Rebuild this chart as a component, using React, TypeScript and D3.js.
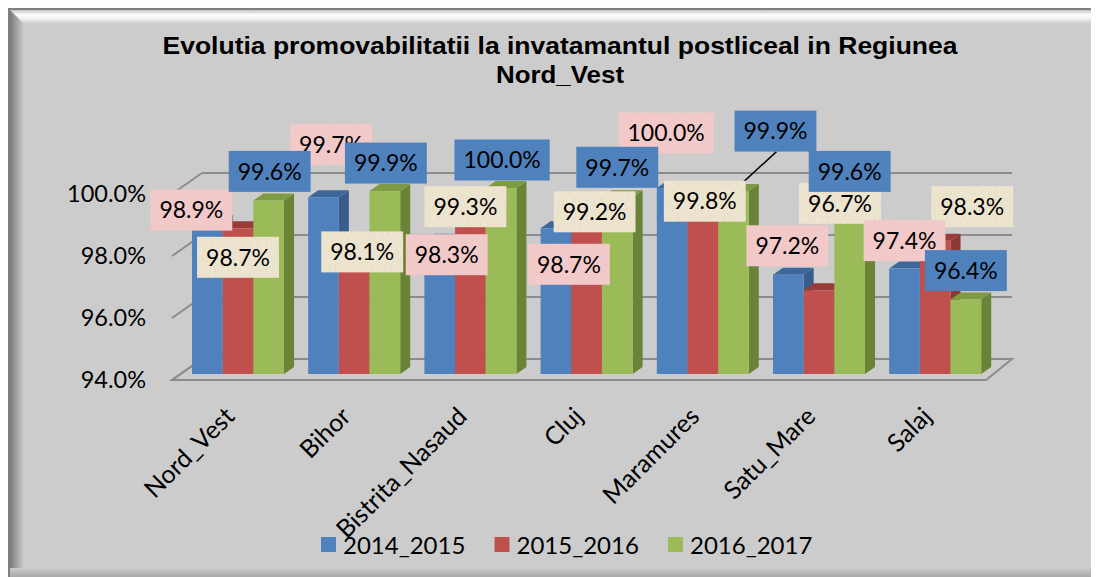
import React from 'react';
import * as d3 from 'd3';

// ---------- data ----------
const categories = ['Nord_Vest', 'Bihor', 'Bistrita_Nasaud', 'Cluj', 'Maramures', 'Satu_Mare', 'Salaj'];
const seriesNames = ['2014_2015', '2015_2016', '2016_2017'];
const values2014_2015 = [98.9, 99.7, 98.3, 98.7, 100.0, 97.2, 97.4];
const values2015_2016 = [98.7, 98.1, 99.3, 99.2, 99.8, 96.7, 98.3];
const values2016_2017 = [99.6, 99.9, 100.0, 99.7, 99.9, 99.6, 96.4];
const yTicks = [94, 96, 98, 100];
const titleLines = ['Evolutia promovabilitatii la invatamantul postliceal in Regiunea', 'Nord_Vest'];

// ---------- style ----------
const seriesValues = [values2014_2015, values2015_2016, values2016_2017];
const frontColors = ['#4F81BD', '#C0504D', '#9BBB59'];
const topColors = ['#3D6798', '#9A3C39', '#7E9B44'];
const sideColors = ['#385D8A', '#8C3836', '#6A8437'];
const labelFills = ['url(#pinkTex)', 'url(#beigeTex)', '#4F81BD'];
const labelDrawOrder = [1, 0, 2];
// label nudges relative to the top-centre of each bar (per series, per category)
const labelNudges = [
  [[-16, -12], [7.5, -53], [7, 14], [13, 36], [-6, -55], [-1, -29], [0, -28]],
  [[0, 29], [8, 5], [-5, -3], [8, -1], [2, 7], [21, -87], [37, -34]],
  [[1, -29], [1, -28], [1, -28], [0, -30], [42, -60], [0, -29], [0, -29]],
];
const leaderLines = [{ cat: 4, series: 2 }];
const titleWidths = [795, 128];

const FONT = 'Lato, "Open Sans", sans-serif';
const FS = 23;

let measureCtx: CanvasRenderingContext2D | null = null;
function textWidth(s: string) {
  if (!measureCtx) {
    const c = document.createElement('canvas');
    measureCtx = c.getContext('2d');
  }
  if (!measureCtx) return s.length * 13;
  measureCtx.font = `${FS}px Lato`;
  return measureCtx.measureText(s).width;
}

export default function App() {
  // wall / floor geometry
  const backLeft = 202;
  const backRight = 1012;
  const depthDX = -30;
  const depthDY = 21;
  const yBack = d3.scaleLinear().domain([94, 100]).range([359, 173]);
  const barShift = 15; // front plane of bars below the back wall
  const yBar = d3.scaleLinear().domain([94, 100]).range([yBack(94) + barShift, yBack(100) + barShift]);

  const xGroup = d3.scaleBand<string>().domain(categories).range([179.9, 993.3]).paddingInner(0.208).paddingOuter(0.104);
  const xSeries = d3.scaleBand<string>().domain(seriesNames).range([0, xGroup.bandwidth()]);
  const bw = xSeries.bandwidth();
  const bdx = 10;
  const bdy = -7;

  const bars: JSX.Element[] = [];
  categories.forEach((c, ci) => {
    seriesNames.forEach((s, si) => {
      const x = (xGroup(c) as number) + (xSeries(s) as number);
      const yT = yBar(seriesValues[si][ci]);
      const yB = yBar(94);
      const side = `M${x + bw},${yT} L${x + bw + bdx},${yT + bdy} L${x + bw + bdx},${yB + bdy} L${x + bw},${yB} Z`;
      const top = `M${x},${yT} L${x + bdx},${yT + bdy} L${x + bw + bdx},${yT + bdy} L${x + bw},${yT} Z`;
      bars.push(
        <g key={`${c}-${s}`}>
          <path d={side} fill={sideColors[si]} />
          <path d={top} fill={topColors[si]} />
          <rect x={x} y={yT} width={bw} height={yB - yT} fill={frontColors[si]} />
        </g>
      );
    });
  });

  const barTop = (ci: number, si: number) => {
    const x = (xGroup(categories[ci]) as number) + (xSeries(seriesNames[si]) as number);
    return { cx: x + bw / 2, y: yBar(seriesValues[si][ci]) };
  };

  const fmt = (v: number) => `${v.toFixed(1)}%`;

  const labels: JSX.Element[] = [];
  labelDrawOrder.forEach((si) => {
    categories.forEach((c, ci) => {
      const { cx, y } = barTop(ci, si);
      const [dx, dy] = labelNudges[si][ci];
      const txt = fmt(seriesValues[si][ci]);
      const w = textWidth(txt) + 18;
      const h = 41;
      const lx = cx + dx;
      const ly = y + dy;
      labels.push(
        <g key={`lab-${si}-${ci}`}>
          <rect x={lx - w / 2} y={ly - h / 2} width={w} height={h} fill={labelFills[si]} />
          <text x={lx} y={ly} dy="0.36em" textAnchor="middle" fontFamily={FONT} fontSize={FS} fill="#000">
            {txt}
          </text>
        </g>
      );
    });
  });

  const leaders = leaderLines.map(({ cat, series }) => {
    const { cx, y } = barTop(cat, series);
    const [dx, dy] = labelNudges[series][cat];
    return <line key={`ld-${cat}`} x1={cx + dx + 1} y1={y + dy + 20.5} x2={cx} y2={y} stroke="#000" strokeWidth={1.5} />;
  });

  const legendStart = 321;
  const legendStep = 173.5;

  return (
    <svg width={1091} height={569} style={{ display: 'block' }}>
      <defs>
        <linearGradient id="topBevel" x1="0" y1="0" x2="0" y2="1">
          <stop offset="0" stopColor="#c4c4c4" />
          <stop offset="0.35" stopColor="#ffffff" />
          <stop offset="0.6" stopColor="#f2f2f2" />
          <stop offset="1" stopColor="#cccccc" />
        </linearGradient>
        <linearGradient id="leftBevel" x1="0" y1="0" x2="1" y2="0">
          <stop offset="0" stopColor="#7a7a7a" />
          <stop offset="0.5" stopColor="#a5a5a5" />
          <stop offset="1" stopColor="#cccccc" />
        </linearGradient>
        <linearGradient id="bottomBevel" x1="0" y1="0" x2="0" y2="1">
          <stop offset="0" stopColor="#cccccc" />
          <stop offset="1" stopColor="#9c9c9c" />
        </linearGradient>
        <filter id="pinkNoise" x="0" y="0" width="1" height="1">
          <feTurbulence type="fractalNoise" baseFrequency="0.18" numOctaves="2" seed="3" result="n" />
          <feColorMatrix in="n" type="matrix" values="0 0 0 0 0.86  0 0 0 0 0.62  0 0 0 0 0.62  0.9 0 0 0 -0.35" result="c" />
          <feComposite in="c" in2="SourceGraphic" operator="atop" />
        </filter>
        <filter id="beigeNoise" x="0" y="0" width="1" height="1">
          <feTurbulence type="fractalNoise" baseFrequency="0.9 0.12" numOctaves="2" seed="5" result="n" />
          <feColorMatrix in="n" type="matrix" values="0 0 0 0 0.72  0 0 0 0 0.65  0 0 0 0 0.5  0.9 0 0 0 -0.3" result="c" />
          <feComposite in="c" in2="SourceGraphic" operator="atop" />
        </filter>
        <pattern id="pinkTex" patternUnits="userSpaceOnUse" width="120" height="60">
          <rect width="120" height="60" fill="#F2C8C8" filter="url(#pinkNoise)" />
        </pattern>
        <pattern id="beigeTex" patternUnits="userSpaceOnUse" width="120" height="60">
          <rect width="120" height="60" fill="#EFE6D1" filter="url(#beigeNoise)" />
        </pattern>
      </defs>
      <g transform="translate(-8,-8)">
        {/* frame */}
        <rect x={8} y={8} width={1100} height={580} fill="#CCCCCC" />
        <polygon points="10,10 1110,10 1110,24 24,24" fill="url(#topBevel)" />
        <polygon points="10,10 24,24 24,600 10,600" fill="url(#leftBevel)" />
        <rect x={10} y={568} width={1100} height={12} fill="url(#bottomBevel)" />
        <line x1={8} y1={9} x2={1110} y2={9} stroke="#7f7f7f" strokeWidth={2} />
        <line x1={9} y1={8} x2={9} y2={600} stroke="#7f7f7f" strokeWidth={2} />

        {/* title */}
        {titleLines.map((t, i) => (
          <text
            key={i}
            x={560}
            y={54 + i * 29}
            textAnchor="middle"
            textLength={titleWidths[i]}
            lengthAdjust="spacingAndGlyphs"
            fontFamily='"Liberation Sans", Arial, sans-serif'
            fontWeight="bold"
            fontSize={24.5}
            fill="#000"
          >
            {t}
          </text>
        ))}

        {/* floor */}
        <polygon
          points={`${backLeft},${yBack(94)} ${backRight},${yBack(94)} ${backRight + depthDX + 4},${yBack(94) + depthDY} ${backLeft + depthDX},${yBack(94) + depthDY}`}
          fill="#CCCCCC"
          stroke="#8C8C8C"
          strokeWidth={2}
        />
        {/* gridlines */}
        {yTicks.map((t) => (
          <g key={t}>
            <line x1={backLeft} y1={yBack(t)} x2={backRight} y2={yBack(t)} stroke="#8C8C8C" strokeWidth={2} />
            <line x1={backLeft} y1={yBack(t)} x2={backLeft + depthDX} y2={yBack(t) + depthDY} stroke="#8C8C8C" strokeWidth={2} />
          </g>
        ))}
        {/* y labels */}
        {yTicks.map((t) => (
          <text key={`yl-${t}`} x={146} y={yBack(t) + depthDY} dy="0.36em" textAnchor="end" fontFamily={FONT} fontSize={23.5} fill="#000">
            {fmt(t)}
          </text>
        ))}

        {bars}
        {leaders}
        {labels}

        {/* category labels */}
        {categories.map((c) => {
          const cx = (xGroup(c) as number) + xGroup.bandwidth() / 2 - 2;
          const cy = 418;
          return (
            <text key={`cl-${c}`} x={cx} y={cy} textAnchor="end" transform={`rotate(-45 ${cx} ${cy})`} fontFamily={FONT} fontSize={25} fill="#000">
              {c}
            </text>
          );
        })}

        {/* legend */}
        {seriesNames.map((s, i) => {
          const lx = legendStart + i * legendStep;
          return (
            <g key={`lg-${s}`}>
              <rect x={lx} y={537} width={15} height={15} fill={frontColors[i]} />
              <text x={lx + 22} y={554} fontFamily={FONT} fontSize={24} fill="#000">
                {s}
              </text>
            </g>
          );
        })}
      </g>
    </svg>
  );
}
